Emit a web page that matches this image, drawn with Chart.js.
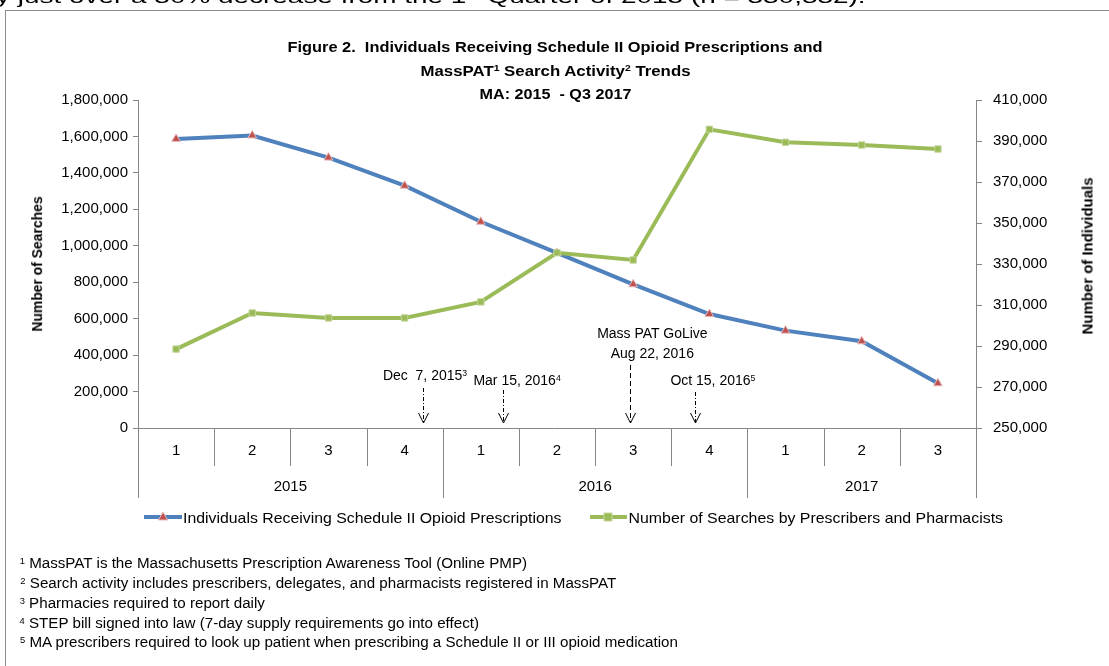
<!DOCTYPE html>
<html><head><meta charset="utf-8">
<script src="https://cdn.jsdelivr.net/npm/chart.js@4.4.1/dist/chart.umd.min.js"></script>
<style>
html,body{margin:0;padding:0;background:#fff;width:1109px;height:666px;overflow:hidden;font-family:"Liberation Sans",Arial,sans-serif;}
#wrap{position:relative;width:1109px;height:666px;overflow:hidden;}
#frame{position:absolute;left:5px;top:10px;width:1200px;height:800px;border:1px solid #8c8c8c;}
#c{position:absolute;left:0;top:0;}
.t{position:absolute;white-space:nowrap;color:#000;line-height:1;transform-origin:center center;}
.t sup{font-size:62%;line-height:0;vertical-align:0.5em;}
</style></head>
<body><div id="wrap"><div id="frame"></div><canvas id="c" width="1109" height="666"></canvas></div>
<script>
// ---- data ----
const quarters = ['1','2','3','4','1','2','3','4','1','2','3'];
const years = ['2015','2016','2017'];
const yearSpans = [4,4,3];
const individuals = [391000,392700,381900,368200,350600,335400,320100,305600,297500,292300,271800];
const searches = [433000,631000,604000,604000,692000,962000,922000,1639000,1568000,1553000,1531000];
const searchAxis = {min:0,max:1800000,step:200000};
const individualAxis = {min:250000,max:410000,step:20000};
const seriesNames = ['Individuals Receiving Schedule II Opioid Prescriptions','Number of Searches by Prescribers and Pharmacists'];
// event markers: fractional quarter index (0 = 2015 Q1 centre)
const eventPos = [3.24,4.29,5.96,6.81];
const eventText = [['Dec&nbsp; 7, 2015<sup>3</sup>'],['Mar 15, 2016<sup>4</sup>'],['Mass PAT GoLive','Aug 22, 2016'],['Oct 15, 2016<sup>5</sup>']];
const footnotes = [
 '<sup>1</sup> MassPAT is the Massachusetts Prescription Awareness Tool (Online PMP)',
 '<sup>2</sup> Search activity includes prescribers, delegates, and pharmacists registered in MassPAT',
 '<sup>3</sup> Pharmacies required to report daily',
 '<sup>4</sup> STEP bill signed into law (7-day supply requirements go into effect)',
 '<sup>5</sup> MA prescribers required to look up patient when prescribing a Schedule II or III opioid medication'
];
const titleLines = ['Figure 2.&nbsp; Individuals Receiving Schedule II Opioid Prescriptions and','MassPAT<sup>1</sup> Search Activity<sup>2</sup> Trends','MA: 2015&nbsp; - Q3 2017'];

// ---- style ----
const BLUE='#4F81BD', GREEN='#9BBB59', AXIS='#868686';
const FONT='"Liberation Sans", Arial, sans-serif';
const wrap=document.getElementById('wrap');
function addText(html,o){
  const el=document.createElement('div');el.className='t';el.innerHTML=html;
  el.style.fontSize=(o.size||14)+'px';el.style.fontWeight=o.bold?'bold':'normal';
  wrap.appendChild(el);
  const nw=el.offsetWidth,nh=el.offsetHeight;
  const sx=o.sx?o.sx:(o.w?o.w/nw:1);
  const w=nw*sx;
  const cx=o.align==='left'?o.x+w/2:o.x;
  el.style.left=(cx-nw/2)+'px';el.style.top=(o.y-nh/2)+'px';
  el.style.transform=(o.rot?'rotate('+o.rot+'deg) ':'')+'scaleX('+sx+')';
  return el;
}

const decor={
  id:'decor',
  afterDraw(chart){
    const ctx=chart.ctx, x=chart.scales.x, a=chart.chartArea;
    const bottom=a.bottom;
    ctx.save();
    ctx.strokeStyle=AXIS;ctx.lineWidth=1;
    ctx.beginPath();ctx.moveTo(a.left-5,bottom+0.5);ctx.lineTo(a.right,bottom+0.5);ctx.stroke();
    let yb=[0];let acc=0;yearSpans.forEach(s=>{acc+=s;yb.push(acc);});
    for(let i=0;i<=quarters.length;i++){
      const px=Math.round(x.getPixelForValue(i-0.5))+0.5;
      const isYear=yb.includes(i);
      ctx.beginPath();ctx.moveTo(px,bottom);ctx.lineTo(px,bottom+(isYear?70:38));ctx.stroke();
    }
    ctx.fillStyle='#000';ctx.font='15px '+FONT;ctx.textAlign='center';ctx.textBaseline='middle';
    quarters.forEach((q,i)=>ctx.fillText(q,x.getPixelForValue(i),bottom+23));
    let start=0;
    years.forEach((yv,k)=>{const mid=start+(yearSpans[k]-1)/2;ctx.fillText(yv,x.getPixelForValue(mid),bottom+59);start+=yearSpans[k];});
    const tops=[388,390,365,392];
    const dashes=[[4,2,1,2],[4,2,1,2],[5,3],[4,2,1,2]];
    ctx.strokeStyle='#000';
    eventPos.forEach((p,i)=>{
      const px=Math.round(x.getPixelForValue(p))+0.5;
      const tip=bottom-5;
      ctx.setLineDash(dashes[i]);ctx.beginPath();ctx.moveTo(px,tops[i]);ctx.lineTo(px,tip);ctx.stroke();
      ctx.setLineDash([]);ctx.beginPath();ctx.moveTo(px-5,tip-10);ctx.lineTo(px,tip);ctx.lineTo(px+5,tip-10);ctx.stroke();
    });
    const ds=chart.data.datasets;
    const ly=517;
    [[144,182,163,ds[1]],[590,627,608,ds[0]]].forEach(([x0,x1,xm,d])=>{
      ctx.strokeStyle=d.borderColor;ctx.lineWidth=4;ctx.beginPath();ctx.moveTo(x0,ly);ctx.lineTo(x1,ly);ctx.stroke();
      ctx.lineWidth=1;ctx.fillStyle=d.pointBackgroundColor;ctx.strokeStyle=d.pointBorderColor;
      ctx.beginPath();
      if(d.pointStyle==='triangle'){ctx.moveTo(xm,ly-5);ctx.lineTo(xm+4.5,ly+3);ctx.lineTo(xm-4.5,ly+3);ctx.closePath();}
      else{ctx.rect(xm-4,ly-4,8,8);}
      ctx.fill();ctx.stroke();
    });
    ctx.restore();
  }
};

const chart=new Chart(document.getElementById('c'),{
  type:'line',
  data:{labels:quarters,datasets:[
    {label:seriesNames[1],data:searches,yAxisID:'yS',borderColor:GREEN,borderWidth:4,pointStyle:'rect',pointRadius:4.5,
     pointBackgroundColor:'#9BBB59',pointBorderColor:'#C3D69B',pointBorderWidth:1,tension:0,order:1,clip:false},
    {label:seriesNames[0],data:individuals,yAxisID:'yI',borderColor:BLUE,borderWidth:4,pointStyle:'triangle',pointRadius:5,
     pointBackgroundColor:'#C0504D',pointBorderColor:'#E6B9B8',pointBorderWidth:1,tension:0,order:2,clip:false}
  ]},
  options:{
    responsive:false,animation:false,devicePixelRatio:1,
    layout:{padding:{top:100,bottom:238,left:0,right:0}},
    plugins:{legend:{display:false},tooltip:{enabled:false},title:{display:false}},
    scales:{
      x:{type:'category',offset:true,display:false},
      yS:{position:'left',min:searchAxis.min,max:searchAxis.max,
        afterFit(s){s.width=138;},
        ticks:{stepSize:searchAxis.step,color:'#000',font:{size:15,family:FONT},padding:5,
          callback:v=>v.toLocaleString('en-US')},
        grid:{drawOnChartArea:false,drawTicks:true,tickLength:5,color:AXIS},
        border:{color:AXIS,width:1}},
      yI:{position:'right',min:individualAxis.min,max:individualAxis.max,
        afterFit(s){s.width=133;},
        ticks:{stepSize:individualAxis.step,color:'#000',font:{size:15,family:FONT},padding:11,
          callback:v=>v.toLocaleString('en-US')},
        grid:{drawOnChartArea:false,drawTicks:true,tickLength:6,color:AXIS},
        border:{color:AXIS,width:1}}
    }
  },
  plugins:[decor]
});

// ---- texts ----
addText('y just over a 30% decrease from the 1<sup>st</sup> Quarter of 2015 (n = 330,332).',{x:-4,y:-4,w:870,align:'left',size:19});
addText(titleLines[0],{x:555,y:46,w:535,size:15,bold:true});
addText(titleLines[1],{x:555,y:70,w:270,size:15,bold:true});
addText(titleLines[2],{x:555,y:93,w:152,size:15,bold:true});
addText('Number of Searches',{x:37,y:264,w:135,size:14,bold:true,rot:-90});
addText('Number of Individuals',{x:1087,y:256,w:157,size:14,bold:true,rot:-90});
const xs=chart.scales.x;
const evOff=[2,14,22,18];
const evY=[[375],[380],[333,353],[380]];
eventText.forEach((lines,i)=>{
  const px=xs.getPixelForValue(eventPos[i])+evOff[i];
  lines.forEach((l,j)=>addText(l,{x:px,y:evY[i][j],size:14}));
});
addText(seriesNames[0],{x:183,y:517,w:379,align:'left',size:15});
addText(seriesNames[1],{x:628,y:517,w:374,align:'left',size:15});
const fy=[563,583,603,623,642];
const fLast=addText(footnotes[4],{x:20,y:fy[4],w:658,align:'left',size:14});
const fsx=658/fLast.offsetWidth;
footnotes.slice(0,4).forEach((f,i)=>addText(f,{x:20,y:fy[i],sx:fsx,align:'left',size:14}));
</script></body></html>
